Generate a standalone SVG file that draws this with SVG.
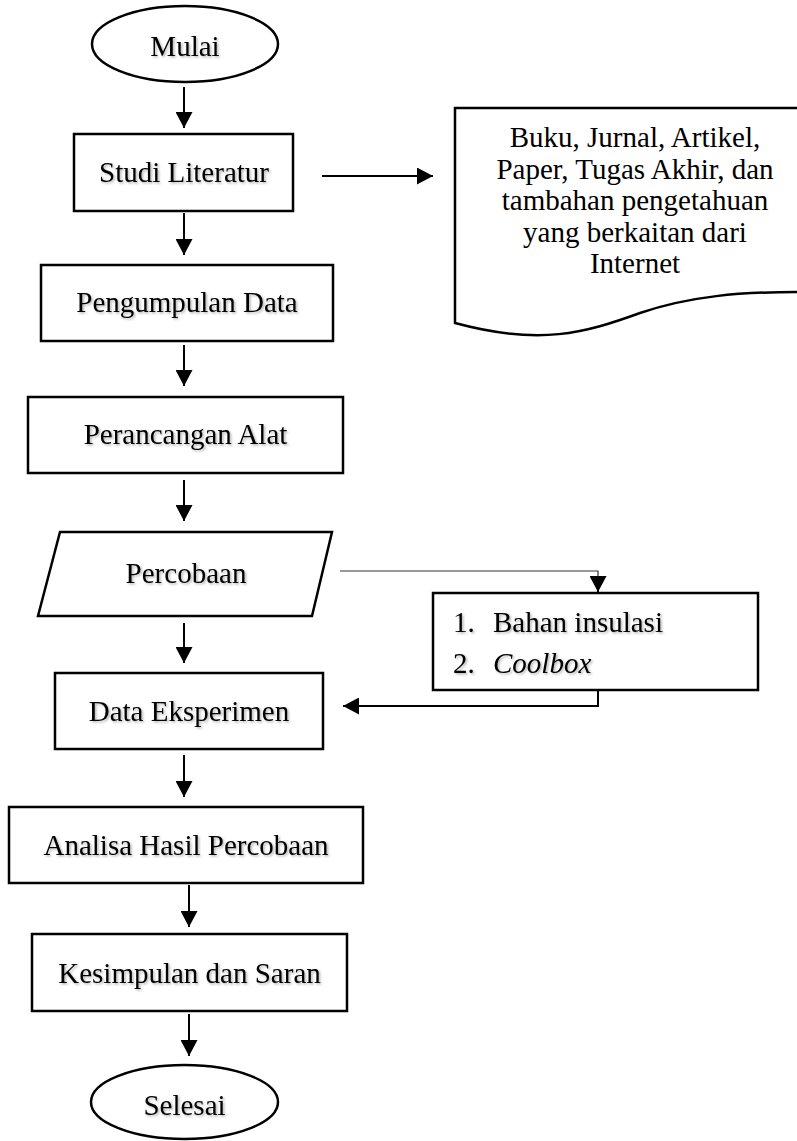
<svg xmlns="http://www.w3.org/2000/svg" width="797" height="1141" viewBox="0 0 797 1141">
<style>
.s{fill:#fff;stroke:#000;stroke-width:2.5}
.t{font-family:"Liberation Serif","Times New Roman",serif;font-size:29px;fill:#000;text-anchor:middle}
.l{font-family:"Liberation Serif","Times New Roman",serif;font-size:29px;fill:#000;text-anchor:start}
.i{font-style:italic}
.sh{filter:url(#shadow)}
.c{fill:none;stroke:#000;stroke-width:2}
.thin{fill:none;stroke:#333;stroke-width:1.2}
</style>
<defs>
<filter id="shadow" x="-10%" y="-30%" width="120%" height="160%">
<feDropShadow dx="1.5" dy="1.5" stdDeviation="1" flood-color="#000" flood-opacity="0.3"/>
</filter>
<marker id="ah" markerWidth="17" markerHeight="17" viewBox="0 0 17 17" refX="16" refY="8.5" orient="auto" markerUnits="userSpaceOnUse">
<path d="M0,0 L16,8.5 L0,17 Z" fill="#000"/>
</marker>
</defs>
<rect width="797" height="1141" fill="#fff"/>

<g id="connectors">
<line class="c" x1="184" y1="87" x2="184" y2="128" marker-end="url(#ah)"/>
<line class="c" x1="322" y1="176" x2="433" y2="176" marker-end="url(#ah)"/>
<line class="c" x1="184" y1="213" x2="184" y2="255" marker-end="url(#ah)"/>
<line class="c" x1="184" y1="345" x2="184" y2="386" marker-end="url(#ah)"/>
<line class="c" x1="184" y1="480" x2="184" y2="521" marker-end="url(#ah)"/>
<polyline class="thin" points="340,571 598,571 598,578"/>
<line class="c" x1="598" y1="577" x2="598" y2="592" marker-end="url(#ah)"/>
<line class="c" x1="184" y1="623" x2="184" y2="663" marker-end="url(#ah)"/>
<polyline class="c" points="598,690 598,706 343,706" marker-end="url(#ah)"/>
<line class="c" x1="184" y1="755" x2="184" y2="797" marker-end="url(#ah)"/>
<line class="c" x1="189" y1="885" x2="189" y2="927" marker-end="url(#ah)"/>
<line class="c" x1="189" y1="1014" x2="189" y2="1056" marker-end="url(#ah)"/>
</g>

<g id="mulai">
<ellipse class="s" cx="185" cy="44" rx="93" ry="38"/>
<text class="t sh" x="185" y="56">Mulai</text>
</g>

<g id="studi-literatur">
<rect class="s" x="74" y="134" width="219" height="77"/>
<text class="t sh" x="184" y="182">Studi Literatur</text>
</g>

<g id="sumber">
<path class="s" d="M455,108 H800 V292 C740,292 690,296 640,313 C585,333 540,346 455,323 Z"/>
<text class="t" x="635" y="147">Buku, Jurnal, Artikel,</text>
<text class="t" x="635" y="178.5">Paper, Tugas Akhir, dan</text>
<text class="t" x="635" y="210">tambahan pengetahuan</text>
<text class="t" x="635" y="241.5">yang berkaitan dari</text>
<text class="t" x="635" y="273">Internet</text>
</g>

<g id="pengumpulan-data">
<rect class="s" x="41" y="265" width="292" height="76"/>
<text class="t sh" x="187" y="312">Pengumpulan Data</text>
</g>

<g id="perancangan-alat">
<rect class="s" x="28" y="397" width="315" height="76"/>
<text class="t sh" x="185.5" y="444">Perancangan Alat</text>
</g>

<g id="percobaan">
<polygon class="s" points="60,532 332,532 312,616 38,616"/>
<text class="t sh" x="186" y="583">Percobaan</text>
</g>

<g id="bahan">
<rect class="s" x="433" y="593" width="325" height="97"/>
<text class="l sh" x="453" y="632">1.</text>
<text class="l sh" x="493" y="632">Bahan insulasi</text>
<text class="l sh" x="453" y="673">2.</text>
<text class="l i sh" x="493" y="673">Coolbox</text>
</g>

<g id="data-eksperimen">
<rect class="s" x="55" y="673" width="268" height="76"/>
<text class="t sh" x="189" y="721">Data Eksperimen</text>
</g>

<g id="analisa">
<rect class="s" x="9" y="807" width="354" height="76"/>
<text class="t sh" x="186" y="855">Analisa Hasil Percobaan</text>
</g>

<g id="kesimpulan">
<rect class="s" x="32" y="934" width="315" height="77"/>
<text class="t sh" x="189.5" y="983">Kesimpulan dan Saran</text>
</g>

<g id="selesai">
<ellipse class="s" cx="184.5" cy="1102" rx="93.5" ry="37"/>
<text class="t sh" x="184.5" y="1115">Selesai</text>
</g>
</svg>
